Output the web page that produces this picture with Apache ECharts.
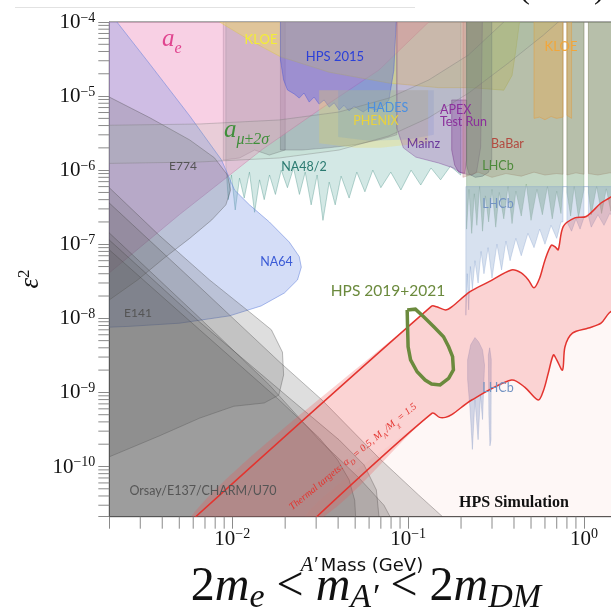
<!DOCTYPE html>
<html><head><meta charset="utf-8">
<script src="https://cdn.jsdelivr.net/npm/echarts@6/dist/echarts.min.js"></script>
<style>html,body{margin:0;padding:0;background:#fff}#chart{width:611px;height:608px}</style>
</head><body><div id="chart"></div>
<script>
// Axis extents: A' mass in GeV, kinetic mixing epsilon^2
const massRange = [0.002, 2.05];
const eps2Range = [2.1e-11, 1e-4];

// Existing limits, [mass (GeV), eps^2]
const aE = [[0.0015,1.5e-4],[0.16,1.5e-4],[0.131,1e-4],[0.0683,2.25e-5],[0.0312,6.5e-6],[0.0148,1.9e-6],[0.005,2.5e-7],[0.002,4.1e-8],[0.0015,4.1e-8]];
const aMuUpper = [[0.0015,4.0e-6],[0.00653,4.2e-6],[0.0185,4.76e-6],[0.0405,6.1e-6],[0.0778,9.4e-6],[0.131,1.65e-5],[0.221,3.6e-5],[0.35,1e-4],[0.42,1.5e-4]];
const aMuLower = [[0.0015,1.22e-6],[0.00653,1.29e-6],[0.0185,1.46e-6],[0.0405,1.87e-6],[0.0778,2.9e-6],[0.131,5.1e-6],[0.221,1.1e-5],[0.372,2.8e-5],[0.59,6.7e-5],[0.714,1e-4],[0.85,1.5e-4]];
const na64 = [[0.0021,1.5e-4],[0.00221,1e-4],[0.0034,2.7e-5],[0.00573,5.4e-6],[0.0087,1.37e-6],[0.0103,5.4e-7],[0.01253,3.4e-7],[0.01626,2.0e-7],[0.0211,1.07e-7],[0.02405,6.8e-8],[0.0247,4.9e-8],[0.0235,3.3e-8],[0.0198,2.2e-8],[0.0146,1.47e-8],[0.00965,1.08e-8],[0.00502,8.6e-9],[0.00262,7.8e-9],[0.002,7.6e-9],[0.0015,7.4e-9],[0.0015,1.5e-4]];
const e774 = [[0.0015,1.0e-5],[0.002,9.7e-6],[0.0034,5.1e-6],[0.00573,2.56e-6],[0.00792,1.47e-6],[0.0094,8.6e-7],[0.0098,5.4e-7],[0.0092,3.4e-7],[0.00765,2.13e-7],[0.00573,1.2e-7],[0.0041,6.5e-8],[0.0029,3.3e-8],[0.002,1.77e-8],[0.0015,1.2e-8]];
const e141 = [[0.0015,8e-7],[0.002,5.8e-7],[0.00387,1.3e-7],[0.00743,3.3e-8],[0.01253,1.22e-8],[0.0167,7.0e-9],[0.0193,3.5e-9],[0.0196,1.72e-9],[0.0184,9.2e-10],[0.0152,7.2e-10],[0.0102,6.5e-10],[0.00653,4.5e-10],[0.00387,2.6e-10],[0.002,1.35e-10],[0.0015,1.1e-10]];
const orsay = [[0.0015,5e-7],[0.002,3.6e-7],[0.00653,2.65e-8],[0.0185,2.6e-9],[0.0324,7.9e-10],[0.0683,1.3e-10],[0.115,4.1e-11],[0.157,2.1e-11],[0.18,1.5e-11],[0.0015,1.5e-11]];
const e137 = [[0.0015,2e-7],[0.002,1.42e-7],[0.00653,1.01e-8],[0.01626,1.26e-9],[0.0312,2.29e-10],[0.0526,7.0e-11],[0.0729,3.0e-11],[0.079,2.1e-11],[0.082,1.5e-11],[0.0015,1.5e-11]];
const charm = [[0.0015,1.2e-7],[0.002,8.4e-8],[0.00653,7.0e-9],[0.0185,7.9e-10],[0.0312,2.44e-10],[0.0397,1.23e-10],[0.0462,6.6e-11],[0.0497,3.5e-11],[0.0503,2.1e-11],[0.0505,1.5e-11],[0.0015,1.5e-11]];
const u70 = [[0.0015,1.6e-7],[0.002,1.14e-7],[0.00653,8.9e-9],[0.0211,8.4e-10],[0.0405,2.29e-10],[0.0562,1.05e-10],[0.066,4.83e-11],[0.0683,2.1e-11],[0.0685,1.5e-11],[0.0015,1.5e-11]];
const na482 = [[0.0092,1.5e-4],[0.0092,1.17e-6],[0.0095,4.0e-7],[0.0099,8.6e-7],[0.0104,2.9e-7],[0.011,7.8e-7],[0.0117,4.2e-7],[0.01253,9.4e-7],[0.0134,2.7e-7],[0.0143,7.4e-7],[0.0152,4.0e-7],[0.0163,8.6e-7],[0.0176,4.7e-7],[0.019,1.0e-6],[0.0206,5.8e-7],[0.0223,1.07e-6],[0.0241,4.7e-7],[0.026,9.4e-7],[0.0281,3.4e-7],[0.0304,8.6e-7],[0.0328,2.1e-7],[0.0356,6.9e-7],[0.0385,3.4e-7],[0.0416,8.3e-7],[0.0462,4.2e-7],[0.0511,9.4e-7],[0.0568,5.1e-7],[0.063,1.0e-6],[0.07,5.8e-7],[0.0797,9.4e-7],[0.091,5.4e-7],[0.104,1.0e-6],[0.118,6.3e-7],[0.135,1.07e-6],[0.153,7.4e-7],[0.174,1.13e-6],[0.199,8.6e-7],[0.2,1.5e-4]];
const kloeLow = [[0.0089,1.5e-4],[0.02,1.5e-4],[0.02,1.87e-6],[0.01626,1.6e-6],[0.0134,1.87e-6],[0.011,1.46e-6],[0.0089,1.37e-6]];
const a1Wide = [[0.0188,1.5e-4],[0.0863,1.5e-4],[0.0863,3e-6],[0.07,2.6e-6],[0.05,2.2e-6],[0.035,2.0e-6],[0.025,1.87e-6],[0.0188,1.87e-6]];
const kloe = [[0.0079,1.5e-4],[0.00847,1e-4],[0.01253,5.7e-5],[0.0188,3.4e-5],[0.0356,2.1e-5],[0.0778,1.5e-5],[0.149,1.3e-5],[0.23,1.3e-5],[0.35,1.2e-5],[0.39,1.9e-5],[0.41,4.2e-5],[0.43,1e-4],[0.44,1.5e-4]];
const hps2015 = [[0.0188,1.5e-4],[0.0188,3.07e-5],[0.0196,1.65e-5],[0.0206,1.21e-5],[0.0225,1.07e-5],[0.02405,9.4e-6],[0.0256,1.1e-5],[0.0274,8.3e-6],[0.0292,9.7e-6],[0.0312,7.8e-6],[0.0333,8.86e-6],[0.0356,7.1e-6],[0.038,8.1e-6],[0.0405,6.49e-6],[0.0432,7.5e-6],[0.0462,6.3e-6],[0.0493,7.3e-6],[0.0555,6.1e-6],[0.06,6.9e-6],[0.0657,6.5e-6],[0.073,7.5e-6],[0.0778,8.86e-6],[0.083,2.25e-5],[0.0863,1.5e-4]];
const phenix = [[0.0312,1.2e-5],[0.13,1.2e-5],[0.13,2.3e-6],[0.1,2.2e-6],[0.07,2.0e-6],[0.05,2.0e-6],[0.0312,2.3e-6]];
const hades = [[0.04,1.2e-5],[0.14,1.2e-5],[0.14,3e-6],[0.1,2.6e-6],[0.06,2.5e-6],[0.04,2.8e-6]];
const mainz = [[0.0863,1.5e-4],[0.0863,3.7e-6],[0.094,2.0e-6],[0.1106,1.5e-6],[0.149,1.25e-6],[0.181,1.07e-6],[0.202,9.1e-7],[0.23,8.55e-7],[0.245,9.4e-7],[0.2586,2.05e-6],[0.265,1.5e-4]];
const apex = [[0.177,8.86e-6],[0.177,1.87e-6],[0.184,1.17e-6],[0.194,9.4e-7],[0.21,9.1e-7],[0.215,1.37e-6],[0.215,8.86e-6]];
const babarLow = [[0.215,1.5e-4],[0.299,1.5e-4],[0.299,1.37e-6],[0.287,9.4e-7],[0.265,8.3e-7],[0.241,8.0e-7],[0.222,8.9e-7],[0.215,1.17e-6]];
const babar = [[0.205,1.5e-4],[0.205,8.0e-7],[0.25,9.4e-7],[0.3,8.0e-7],[0.36,9.0e-7],[0.44,8.3e-7],[0.52,9.4e-7],[0.6,8.6e-7],[0.7,9.0e-7],[0.76,8.8e-7],[0.76,1.5e-4],[0.80,1.5e-4],[0.80,8.6e-7],[0.9,9.2e-7],[1.0,8.8e-7],[1.0,1.5e-4],[1.06,1.5e-4],[1.06,9.0e-7],[1.2,8.6e-7],[1.4,9.2e-7],[2.1,8.8e-7],[2.1,1.5e-4]];
const lhcbPrompt = [[0.215,1.5e-4],[0.215,1.6e-7],[0.222,5.5e-7],[0.23,1.4e-7],[0.238,4.8e-7],[0.246,1.8e-7],[0.255,6e-7],[0.265,1.5e-7],[0.275,4.5e-7],[0.287,2.0e-7],[0.3,5.5e-7],[0.315,1.7e-7],[0.33,5e-7],[0.35,2.2e-7],[0.37,6e-7],[0.39,1.9e-7],[0.41,5.2e-7],[0.44,2.4e-7],[0.47,6.5e-7],[0.5,2.1e-7],[0.54,5.5e-7],[0.58,2.5e-7],[0.62,6e-7],[0.66,2.2e-7],[0.7,5.2e-7],[0.74,2.6e-7],[0.76,6e-7],[0.76,1.5e-4],[0.8,1.5e-4],[0.8,5e-7],[0.84,2.4e-7],[0.88,6e-7],[0.93,2.3e-7],[1.0,5.5e-7],[1.0,1.5e-4],[1.06,1.5e-4],[1.06,5e-7],[1.1,2.5e-7],[1.18,6e-7],[1.26,2.6e-7],[1.34,5.6e-7],[1.42,2.8e-7],[1.6,5e-7],[2.1,3e-7],[2.1,1.5e-4]];
const lhcbPrompt2 = [[0.213,6e-7],[0.213,1.1e-8],[0.217,4e-8],[0.221,1.3e-8],[0.226,5e-8],[0.232,2.5e-8],[0.24,6e-8],[0.25,3e-8],[0.26,8e-8],[0.27,4e-8],[0.285,9e-8],[0.3,3.5e-8],[0.32,1e-7],[0.34,4.5e-8],[0.36,1.1e-7],[0.38,6e-8],[0.41,1.2e-7],[0.44,7e-8],[0.48,1.4e-7],[0.52,9e-8],[0.56,1.6e-7],[0.6,1.0e-7],[0.65,1.8e-7],[0.7,1.2e-7],[0.74,2e-7],[0.76,2e-7],[0.76,6e-7],[0.8,6e-7],[0.8,2e-7],[0.85,1.5e-7],[0.9,2.2e-7],[0.95,1.6e-7],[1.0,2.3e-7],[1.0,6e-7],[1.06,6e-7],[1.06,2.4e-7],[1.1,1.7e-7],[1.2,2.5e-7],[1.3,1.8e-7],[1.4,2.6e-7],[1.6,2.0e-7],[2.1,2.5e-7],[2.1,6e-7]];
const lhcbDisplaced1 = [[0.218,2.75e-9],[0.227,4.4e-9],[0.24,5.5e-9],[0.252,4.8e-9],[0.265,3.75e-9],[0.272,2.35e-9],[0.265,4.3e-10],[0.258,9e-10],[0.25,2.3e-10],[0.24,8e-10],[0.232,1.7e-10],[0.225,6e-10],[0.218,1.5e-9]];
const lhcbDisplaced2 = [[0.286,3.2e-9],[0.291,4e-9],[0.297,2.8e-9],[0.296,2.3e-10],[0.292,1.9e-10],[0.288,5e-10]];
const kloeHigh = [[0.52,1.5e-4],[0.52,5e-6],[0.56,5.2e-6],[0.6,4.8e-6],[0.65,5.3e-6],[0.7,5.0e-6],[0.76,5.2e-6],[0.76,1.5e-4],[0.8,1.5e-4],[0.8,5.5e-6],[0.85,5e-6],[0.85,1.5e-4]];

// Thermal relic targets (alpha_D = 0.5, M_A'/M_chi = 1.5)
const thermalUpper = [[0.0053,1.5e-11],[0.136,1.46e-8],[0.1454,1.43e-8],[0.163,1.3e-8],[0.177,1.43e-8],[0.225,2.29e-8],[0.287,3.1e-8],[0.387,4.5e-8],[0.44,4.1e-8],[0.483,3.3e-8],[0.52,2.58e-8],[0.56,3.5e-8],[0.6,6.1e-8],[0.652,9.7e-8],[0.69,9.1e-8],[0.714,8.4e-8],[0.762,1.73e-7],[0.887,2.27e-7],[1.03,2.37e-7],[1.25,3.6e-7],[1.39,4.2e-7],[2.05,7.4e-7]];
const thermalLower = [[0.026,1.5e-11],[0.137,5.24e-10],[0.151,4.6e-10],[0.163,4.6e-10],[0.177,5.0e-10],[0.23,7.9e-10],[0.387,1.47e-9],[0.46,1.18e-9],[0.55,7.9e-10],[0.59,1.08e-9],[0.627,1.83e-9],[0.67,3.2e-9],[0.70,2.75e-9],[0.755,2.0e-9],[0.78,4.13e-9],[0.86,6.3e-9],[1.06,7.4e-9],[1.25,8.6e-9],[1.39,1.18e-8],[2.05,2.4e-8]];

// HPS 2019+2021 projected reach contour
const hpsReach = [[0.0988,1.3e-8],[0.11,1.33e-8],[0.1226,1.05e-8],[0.14,7.7e-9],[0.159,5.65e-9],[0.17,4.13e-9],[0.179,3.04e-9],[0.181,2.01e-9],[0.17,1.55e-9],[0.152,1.26e-9],[0.136,1.3e-9],[0.125,1.47e-9],[0.1125,1.9e-9],[0.1033,2.75e-9],[0.1,4.13e-9],[0.0993,7.7e-9],[0.0988,1.3e-8]];

const chart = echarts.init(document.getElementById('chart'), null, {renderer:'canvas'});

function area(pts, fill, stroke, lw, smooth) {
  return {
    type:'custom', coordinateSystem:'cartesian2d', clip:true, silent:true,
    data: pts,
    renderItem(params, api) {
      if (params.dataIndexInside !== 0) return null;
      const p = pts.map(d => api.coord(d));
      return {type:'polygon', shape:{points:p, smooth:smooth||0},
        style:{fill:fill, stroke:stroke||'none', lineWidth:lw||0}};
    }
  };
}
function curve(pts, stroke, lw, smooth) {
  return {
    type:'custom', coordinateSystem:'cartesian2d', clip:true, silent:true,
    data: pts,
    renderItem(params, api) {
      if (params.dataIndexInside !== 0) return null;
      const p = pts.map(d => api.coord(d));
      return {type:'polyline', shape:{points:p, smooth:smooth||0},
        style:{fill:null, stroke:stroke, lineWidth:lw}};
    }
  };
}
// minor ticks of the log axes
const xMinor = [], yMinor = [];
for (let d = -3; d <= 0; d++) for (let k = 2; k <= 9; k++) {
  const v = k * Math.pow(10, d);
  if (v > massRange[0] && v < massRange[1]) xMinor.push(v);
}
for (let d = -11; d <= -5; d++) for (let k = 2; k <= 9; k++) {
  const v = k * Math.pow(10, d);
  if (v > eps2Range[0] && v < eps2Range[1]) yMinor.push(v);
}
function minorTicks(axis) {
  const vals = axis === 'x' ? xMinor.map(v => [v, eps2Range[0]]) : yMinor.map(v => [massRange[0], v]);
  return {
    type:'custom', coordinateSystem:'cartesian2d', clip:false, silent:true, z:5,
    data: vals,
    renderItem(params, api) {
      const p = api.coord([api.value(0), api.value(1)]);
      const shape = axis === 'x' ? {x1:p[0], y1:p[1], x2:p[0], y2:p[1] + 12}
                                 : {x1:p[0] - 11, y1:p[1], x2:p[0], y2:p[1]};
      return {type:'line', shape, style:{stroke:'#8a8a8a', lineWidth:1}};
    }
  };
}

const gray = 'rgba(90,90,90,0.2)', grayEdge = 'rgba(70,70,70,0.45)';
const series = [
  area(na482, 'rgba(110,180,170,0.3)', 'rgba(80,150,140,0.5)', 0.8),
  area(kloeLow, 'rgba(110,105,120,0.22)', 'rgba(90,90,100,0.4)', 0.8),
  area(a1Wide, 'rgba(100,90,130,0.3)', 'rgba(90,90,110,0.4)', 0.8),
  area(aE, 'rgba(240,150,195,0.45)', 'rgba(200,110,160,0.5)', 0.8),
  area(na64, 'rgba(120,150,230,0.32)', 'rgba(100,130,220,0.6)', 0.9),
  area(e774, gray, grayEdge, 0.8),
  area(e141, gray, grayEdge, 0.8),
  area(orsay, gray, grayEdge, 0.8),
  area(e137, gray, grayEdge, 0.8),
  area(charm, gray, grayEdge, 0.8),
  area(u70, gray, grayEdge, 0.8),
  area(kloe, 'rgba(245,225,80,0.38)', 'rgba(220,200,60,0.5)', 0.8),
  area(hps2015, 'rgba(70,90,230,0.35)', 'rgba(60,80,220,0.5)', 0.8),
  area(phenix, 'rgba(240,215,80,0.28)', null, 0),
  area(hades, 'rgba(90,150,230,0.18)', null, 0),
  area(mainz, 'rgba(150,80,170,0.3)', 'rgba(120,60,150,0.5)', 0.8),
  area(apex, 'rgba(130,60,150,0.35)', 'rgba(110,40,130,0.5)', 0.8),
  area(babarLow, 'rgba(90,95,130,0.32)', 'rgba(80,80,120,0.5)', 0.8),
  area(babar, 'rgba(190,130,120,0.3)', 'rgba(180,110,100,0.4)', 0.8),
  area(lhcbPrompt, 'rgba(100,150,100,0.38)', 'rgba(90,140,90,0.45)', 0.6),
  area(kloeHigh, 'rgba(240,170,70,0.35)', 'rgba(230,150,50,0.5)', 0.8),
  area(lhcbPrompt2, 'rgba(140,170,210,0.35)', 'rgba(120,150,200,0.5)', 0.6),
  area(lhcbDisplaced1, 'rgba(140,165,210,0.4)', 'rgba(120,150,200,0.5)', 0.6),
  area(lhcbDisplaced2, 'rgba(140,165,210,0.4)', 'rgba(120,150,200,0.5)', 0.6),
  area(aMuUpper.concat(aMuLower.slice().reverse()), 'rgba(130,190,130,0.12)', null, 0),
  curve(aMuUpper, 'rgba(120,120,120,0.45)', 0.8),
  curve(aMuLower, 'rgba(120,120,120,0.45)', 0.8),
  area(thermalLower.concat([[2.1,1.5e-11]]), 'rgba(240,120,110,0.06)', null, 0, 0.3),
  area(thermalUpper.concat(thermalLower.slice().reverse()), 'rgba(240,80,80,0.25)', null, 0, 0.3),
  curve(thermalUpper, '#e3342f', 1.5, 0.3),
  curve(thermalLower, '#e3342f', 1.5, 0.3),
  curve(hpsReach, '#6b8a3d', 3.5, 0),
  minorTicks('x'), minorTicks('y')
];

function powLabel(v) {
  const e = Math.log10(v), n = Math.round(e);
  if (Math.abs(e - n) > 1e-6) return '';
  return '{b|10}{s|' + (n < 0 ? '\u2212' + (-n) : String(n)) + '}';
}
const tickRich = {
  b: {fontFamily:'Liberation Serif', fontSize:21, color:'#111', lineHeight:22, verticalAlign:'bottom'},
  s: {fontFamily:'Liberation Serif', fontSize:14, color:'#111', lineHeight:14, verticalAlign:'top'}
};

const sans = 'Lato';
function label(text, x, y, color, size, extra) {
  return Object.assign({type:'text', x:x, y:y, silent:true, z:50,
    style:{text:text, fill:color, fontFamily:sans, fontSize:size, align:'center', verticalAlign:'middle'}}, extra||{});
}
// italic symbol with a lowered subscript
function mathLabel(main, sub, x, y, color) {
  return {type:'text', x:x, y:y, silent:true, z:50, style:{text:'{a|' + main + '}{b|' + sub + '}', verticalAlign:'middle', rich:{
    a:{fontFamily:'Liberation Serif', fontStyle:'italic', fontSize:25, fill:color, lineHeight:30, verticalAlign:'top'},
    b:{fontFamily:'Liberation Serif', fontStyle:'italic', fontSize:16, fill:color, lineHeight:18, verticalAlign:'bottom'}}}};
}

const graphic = [
  {type:'line', shape:{x1:15, y1:7.5, x2:415, y2:7.5}, style:{stroke:'#e2e2e2', lineWidth:1}, silent:true},
  {type:'text', x:562, y:6, silent:true, style:{text:'(2021)', fontFamily:'Liberation Serif', fontSize:32, fill:'#111', align:'center', verticalAlign:'bottom'}},
  mathLabel('a', 'e', 162, 42, '#e0458f'),
  mathLabel('a', '\u03bc\u00b12\u03c3', 224, 133, '#3f8f3a'),
  label('KLOE', 261, 40, '#f3ee35', 13),
  label('HPS 2015', 335, 57, '#2b40d8', 13),
  label('HADES', 387.5, 108, '#4a8fe0', 12.5),
  label('PHENIX', 376, 120.5, '#e9d23c', 12.5),
  {type:'text', x:440, y:116, silent:true, z:50, style:{text:'APEX\nTest Run', fill:'#8b2f9b', fontFamily:sans, fontSize:12.5, lineHeight:12, align:'left', verticalAlign:'middle'}},
  label('Mainz', 423.5, 144, '#6b3a9b', 12.5),
  label('BaBar', 507.5, 144, '#b24a40', 12.5),
  label('LHCb', 498, 165.5, '#4d8a3a', 12.5),
  label('LHCb', 498, 204, '#7393c2', 12.5),
  label('LHCb', 498, 388, '#7393c2', 12.5),
  label('KLOE', 561, 47, '#f2a63a', 13),
  label('E774', 183, 166, '#555', 12),
  label('NA48/2', 304, 166.5, '#2a7a70', 12.5),
  label('NA64', 276.5, 262, '#3b5bd6', 12.5),
  label('E141', 138, 313.5, '#555', 12),
  label('Orsay/E137/CHARM/U70', 203, 491, '#555', 12.5),
  label('HPS 2019+2021', 388, 291, '#6b8a3d', 15.5),
  {type:'text', x:514, y:503, silent:true, z:50, style:{text:'HPS Simulation', fill:'#111', fontFamily:'Liberation Serif', fontWeight:'bold', fontSize:16, align:'center', verticalAlign:'middle'}},
  {type:'text', x:354, y:458, rotation:0.69, silent:true, z:50, style:{
    text:'{i|Thermal targets: \u03b1}{s|D}{i| = 0.5, M}{s|A\u2032}{i|/M}{s|\u03c7}{i| = 1.5}', align:'center', verticalAlign:'middle', rich:{
      i:{fontFamily:'Liberation Serif', fontStyle:'italic', fontSize:10, fill:'#e3342f', lineHeight:13, verticalAlign:'top'},
      s:{fontFamily:'Liberation Serif', fontStyle:'italic', fontSize:7, fill:'#e3342f', lineHeight:9, verticalAlign:'bottom'}}}},
  {type:'text', x:362, y:566, silent:true, style:{text:'{i|A\u2032} {s|Mass (GeV)}', align:'center', verticalAlign:'middle', rich:{
    i:{fontFamily:'Liberation Serif', fontStyle:'italic', fontSize:20, fill:'#111'},
    s:{fontFamily:'DejaVu Sans', fontSize:18, fill:'#111'}}}},
  {type:'text', x:30, y:279, rotation:Math.PI/2, silent:true, style:{text:'{e|\u03b5}{s|2}', align:'center', verticalAlign:'middle', rich:{
    e:{fontFamily:'Liberation Serif', fontStyle:'italic', fontSize:27, fill:'#111', lineHeight:28, verticalAlign:'bottom'},
    s:{fontFamily:'Liberation Serif', fontSize:17, fill:'#111', lineHeight:17, verticalAlign:'top'}}}},
  {type:'text', x:366, y:589, silent:true, style:{
    text:'{n|2}{m|m}{u|e}{n| < }{m|m}{u|A\u2032}{n| < 2}{m|m}{u|DM}', align:'center', verticalAlign:'middle', rich:{
      n:{fontFamily:'Liberation Serif', fontSize:48, fill:'#111', lineHeight:52, verticalAlign:'top'},
      m:{fontFamily:'Liberation Serif', fontStyle:'italic', fontSize:48, fill:'#111', lineHeight:52, verticalAlign:'top'},
      u:{fontFamily:'Liberation Serif', fontStyle:'italic', fontSize:34, fill:'#111', lineHeight:34, verticalAlign:'bottom'}}}}
];

chart.setOption({
  animation:false,
  backgroundColor:'#fff',
  grid:{left:109.3, top:22, width:529.5, height:494.7, outerBoundsMode:'none', containLabel:false,
    show:true, borderColor:'#555', borderWidth:1, backgroundColor:'transparent'},
  xAxis:{type:'log', logBase:10, min:massRange[0], max:massRange[1],
    axisLine:{show:true, lineStyle:{color:'#555', width:1}},
    axisTick:{show:true, length:12, lineStyle:{color:'#8a8a8a'}},
    splitLine:{show:false}, minorTick:{show:false},
    axisLabel:{margin:11, verticalAlign:'top', formatter:powLabel, rich:tickRich}},
  yAxis:{type:'log', logBase:10, min:eps2Range[0], max:eps2Range[1],
    axisLine:{show:true, lineStyle:{color:'#555', width:1}},
    axisTick:{show:true, length:11, lineStyle:{color:'#8a8a8a'}},
    splitLine:{show:false}, minorTick:{show:false},
    axisLabel:{margin:14, formatter:powLabel, rich:tickRich}},
  series: series,
  graphic: graphic
});
</script></body></html>
